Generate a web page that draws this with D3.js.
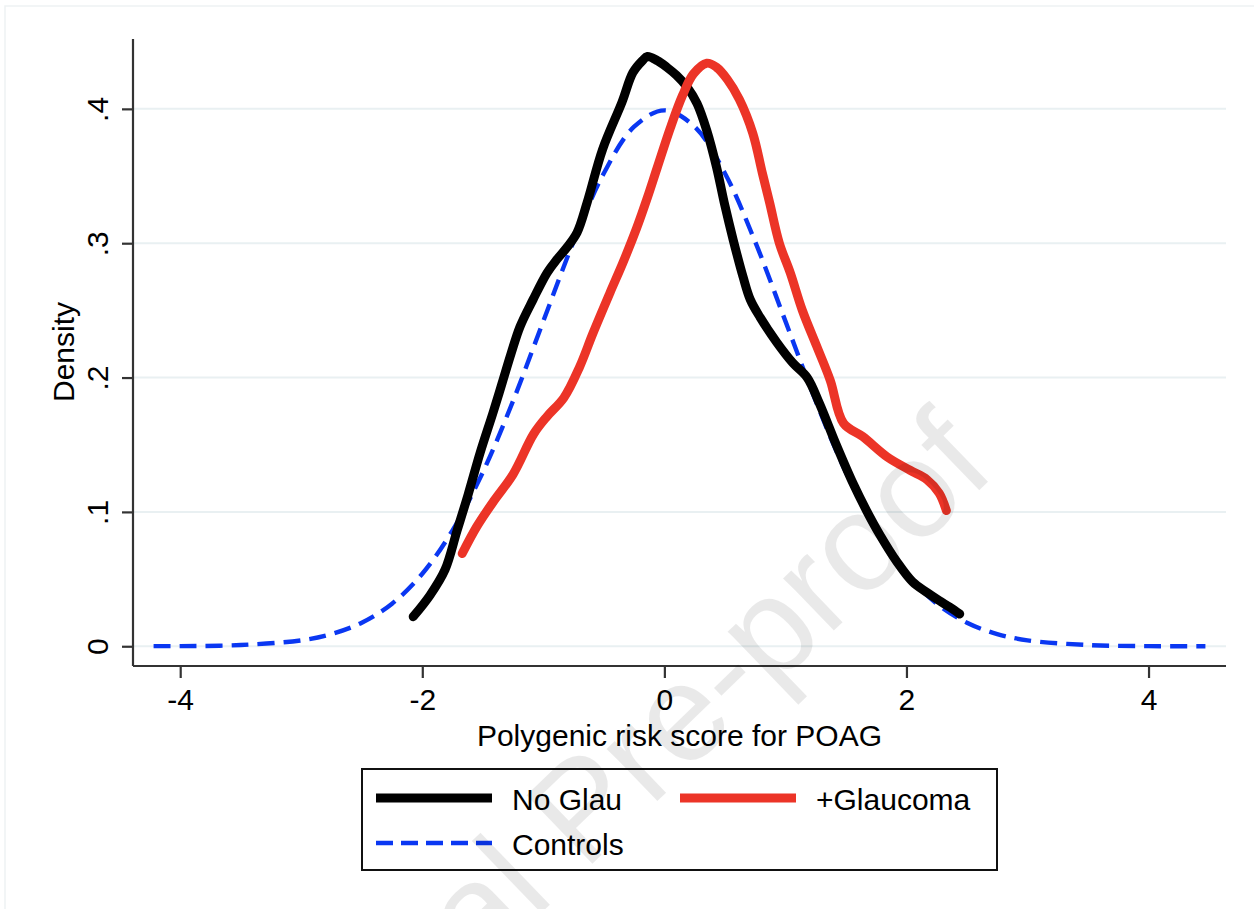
<!DOCTYPE html>
<html>
<head>
<meta charset="utf-8">
<script src="https://cdn.jsdelivr.net/npm/d3@7"></script>
<style>
  html, body { margin: 0; padding: 0; background: #fff; }
  svg { display: block; }
  text { font-family: "Liberation Sans", Arial, Helvetica, sans-serif; }
</style>
</head>
<body>
<svg id="chart" width="1254" height="909"></svg>
<script>
// Kernel density estimates of the polygenic risk score (POAG)
const noGlauX = [-2.075, -1.936, -1.812, -1.713, -1.621, -1.522, -1.415, -1.34, -1.266, -1.192, -1.085, -0.969, -0.887, -0.804, -0.721, -0.639, -0.51, -0.35, -0.26, -0.18, -0.14, -0.06, 0.02, 0.10, 0.19, 0.27, 0.35, 0.43, 0.50, 0.57, 0.65, 0.71, 0.79, 0.93, 1.06, 1.18, 1.28, 1.42, 1.56, 1.67, 1.78, 1.92, 2.05, 2.17, 2.27, 2.36, 2.44];
const noGlauY = [0.022, 0.038, 0.057, 0.086, 0.113, 0.144, 0.174, 0.196, 0.218, 0.238, 0.258, 0.278, 0.288, 0.297, 0.308, 0.330, 0.370, 0.405, 0.427, 0.436, 0.439, 0.436, 0.431, 0.425, 0.416, 0.404, 0.384, 0.357, 0.328, 0.302, 0.275, 0.258, 0.245, 0.226, 0.211, 0.200, 0.181, 0.150, 0.121, 0.101, 0.083, 0.063, 0.048, 0.040, 0.034, 0.029, 0.024];

const glaucomaX = [-1.67, -1.55, -1.41, -1.25, -1.08, -0.97, -0.83, -0.70, -0.59, -0.45, -0.34, -0.23, -0.14, -0.06, 0.05, 0.15, 0.24, 0.35, 0.43, 0.52, 0.62, 0.73, 0.81, 0.87, 0.95, 1.04, 1.14, 1.26, 1.37, 1.48, 1.64, 1.84, 2.03, 2.17, 2.27, 2.33];
const glaucomaY = [0.069, 0.089, 0.108, 0.128, 0.158, 0.171, 0.185, 0.208, 0.233, 0.263, 0.286, 0.311, 0.334, 0.356, 0.386, 0.410, 0.426, 0.434, 0.431, 0.422, 0.407, 0.382, 0.352, 0.330, 0.300, 0.278, 0.250, 0.223, 0.198, 0.166, 0.156, 0.141, 0.131, 0.124, 0.114, 0.101];

const controlsX = [-4.22, -4.0, -3.5, -3.0, -2.75, -2.5, -2.25, -2.0, -1.75, -1.5, -1.25, -1.0, -0.75, -0.5, -0.25, 0.0, 0.25, 0.5, 0.75, 1.0, 1.25, 1.5, 1.75, 2.0, 2.25, 2.5, 2.75, 3.0, 3.5, 4.0, 4.47];
const controlsY = [0.0001, 0.0001, 0.0009, 0.0044, 0.0091, 0.0175, 0.0317, 0.0540, 0.0863, 0.1295, 0.1826, 0.2420, 0.3011, 0.3521, 0.3867, 0.3989, 0.3867, 0.3521, 0.3011, 0.2420, 0.1826, 0.1295, 0.0863, 0.0540, 0.0317, 0.0175, 0.0091, 0.0044, 0.0009, 0.0001, 0.0000];

const xTicks = [-4, -2, 0, 2, 4];
const yTicks = [0, 0.1, 0.2, 0.3, 0.4];
const yTickLabels = ["0", ".1", ".2", ".3", ".4"];

const seriesNames = ["No Glau", "+Glaucoma", "Controls"];
const seriesColors = ["#000000", "#ec3427", "#0a37f2"];

const svg = d3.select("#chart");
const FONT = 30;

// plot region (axis lines)
const plotLeft = 133, plotRight = 1226, plotTop = 39, plotBottom = 666;

const x = d3.scaleLinear().domain([-4.39, 4.64]).range([plotLeft, plotRight]);
const y = d3.scaleLinear().domain([-0.0147, 0.452]).range([plotBottom, plotTop]);

// faint outer frame
svg.append("path")
  .attr("d", `M5,909 V6 H1254`)
  .attr("fill", "none")
  .attr("stroke", "#eef2f3")
  .attr("stroke-width", 1.5);

// horizontal grid lines
svg.append("g")
  .selectAll("line")
  .data(yTicks)
  .join("line")
  .attr("x1", plotLeft).attr("x2", plotRight)
  .attr("y1", d => y(d)).attr("y2", d => y(d))
  .attr("stroke", "#e9f0f2")
  .attr("stroke-width", 2);

// x axis
const xAxis = svg.append("g")
  .attr("transform", `translate(0,${plotBottom})`)
  .call(d3.axisBottom(x).tickValues(xTicks).tickSize(12).tickSizeOuter(0));
xAxis.select(".domain").attr("stroke", "#333").attr("stroke-width", 2.2)
  .attr("d", `M${plotLeft},0H${plotRight}`);
xAxis.selectAll(".tick line").attr("stroke", "#333").attr("stroke-width", 2.2);
xAxis.selectAll(".tick text")
  .attr("y", 44).attr("dy", null)
  .attr("font-size", FONT).attr("fill", "#000")
  .attr("font-family", "Liberation Sans, Arial, Helvetica, sans-serif")
  .text(d => d < 0 ? "-" + Math.abs(d) : String(d));

// y axis
const yAxis = svg.append("g")
  .attr("transform", `translate(${plotLeft},0)`)
  .call(d3.axisLeft(y).tickValues(yTicks).tickSize(11).tickSizeOuter(0).tickFormat((d, i) => yTickLabels[i]));
yAxis.select(".domain").attr("stroke", "#333").attr("stroke-width", 2.2)
  .attr("d", `M0,${plotTop}V${plotBottom}`);
yAxis.selectAll(".tick line").attr("stroke", "#333").attr("stroke-width", 2.2);
yAxis.selectAll(".tick text")
  .attr("x", null).attr("dy", null)
  .attr("transform", "translate(-25,0) rotate(-90)")
  .attr("text-anchor", "middle")
  .attr("font-size", FONT).attr("fill", "#000")
  .attr("font-family", "Liberation Sans, Arial, Helvetica, sans-serif");

// axis titles
svg.append("text")
  .attr("x", (plotLeft + plotRight) / 2).attr("y", 746)
  .attr("text-anchor", "middle")
  .attr("font-size", FONT)
  .text("Polygenic risk score for POAG");

svg.append("text")
  .attr("transform", "translate(74,352) rotate(-90)")
  .attr("text-anchor", "middle")
  .attr("font-size", FONT)
  .text("Density");

// density curves
const line = d3.line()
  .x(d => x(d[0]))
  .y(d => y(d[1]))
  .curve(d3.curveCatmullRom.alpha(0.5));

const zip = (xs, ys) => xs.map((v, i) => [v, ys[i]]);

svg.append("path")
  .datum(zip(controlsX, controlsY))
  .attr("d", line)
  .attr("fill", "none")
  .attr("stroke", seriesColors[2])
  .attr("stroke-width", 4.4)
  .attr("stroke-dasharray", "17,9");

svg.append("path")
  .datum(zip(noGlauX, noGlauY))
  .attr("d", line)
  .attr("fill", "none")
  .attr("stroke", seriesColors[0])
  .attr("stroke-width", 9)
  .attr("stroke-linejoin", "round")
  .attr("stroke-linecap", "round");

svg.append("path")
  .datum(zip(glaucomaX, glaucomaY))
  .attr("d", line)
  .attr("fill", "none")
  .attr("stroke", seriesColors[1])
  .attr("stroke-width", 9)
  .attr("stroke-linejoin", "round")
  .attr("stroke-linecap", "round");

// legend
const legend = svg.append("g");
legend.append("rect")
  .attr("x", 362).attr("y", 769)
  .attr("width", 635).attr("height", 101)
  .attr("fill", "#fff")
  .attr("stroke", "#111")
  .attr("stroke-width", 2);

const legendItems = [
  { name: seriesNames[0], color: seriesColors[0], x: 376, y: 798, w: 9, dash: null },
  { name: seriesNames[1], color: seriesColors[1], x: 680, y: 798, w: 9, dash: null },
  { name: seriesNames[2], color: seriesColors[2], x: 376, y: 843, w: 4.4, dash: "17,8" }
];
legendItems.forEach(it => {
  legend.append("line")
    .attr("x1", it.x).attr("x2", it.x + 116)
    .attr("y1", it.y).attr("y2", it.y)
    .attr("stroke", it.color)
    .attr("stroke-width", it.w)
    .attr("stroke-dasharray", it.dash);
  legend.append("text")
    .attr("x", it.x + 136).attr("y", it.y + 12)
    .attr("font-size", FONT)
    .text(it.name);
});

// watermark
svg.append("text")
  .attr("transform", "translate(998,472) rotate(-44)")
  .attr("text-anchor", "end")
  .attr("font-size", 138)
  .attr("fill", "#000")
  .attr("fill-opacity", 0.085)
  .text("Journal Pre-proof");
</script>
</body>
</html>
